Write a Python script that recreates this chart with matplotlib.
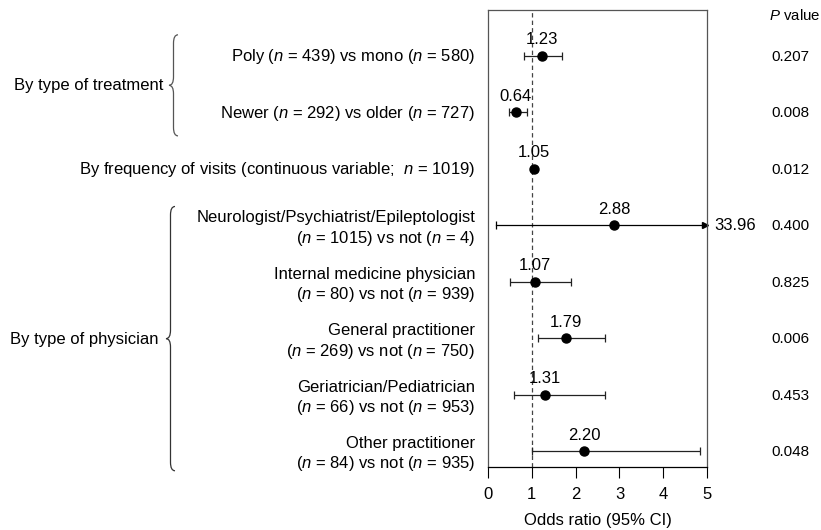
import matplotlib
matplotlib.use("Agg")
import matplotlib.pyplot as plt
from matplotlib.path import Path
from matplotlib.patches import PathPatch
from matplotlib.transforms import blended_transform_factory
import numpy as np

plt.rcParams['font.family'] = ['Liberation Sans', 'DejaVu Sans']
plt.rcParams['mathtext.fontset'] = 'custom'
plt.rcParams['mathtext.rm'] = 'Liberation Sans'
plt.rcParams['mathtext.it'] = 'Liberation Sans:italic'

# data
row_labels = [
    "Poly ($n$ = 439) vs mono ($n$ = 580)",
    "Newer ($n$ = 292) vs older ($n$ = 727)",
    "By frequency of visits (continuous variable;  $n$ = 1019)",
    "Neurologist/Psychiatrist/Epileptologist\n($n$ = 1015) vs not ($n$ = 4)",
    "Internal medicine physician\n($n$ = 80) vs not ($n$ = 939)",
    "General practitioner\n($n$ = 269) vs not ($n$ = 750)",
    "Geriatrician/Pediatrician\n($n$ = 66) vs not ($n$ = 953)",
    "Other practitioner\n($n$ = 84) vs not ($n$ = 935)",
]
odds = [1.23, 0.64, 1.05, 2.88, 1.07, 1.79, 1.31, 2.20]
ci_low = [0.83, 0.49, 1.02, 0.20, 0.50, 1.15, 0.61, 1.02]
ci_high = [1.69, 0.89, 1.09, 33.96, 1.90, 2.67, 2.67, 4.84]
p_values = ["0.207", "0.008", "0.012", "0.400", "0.825", "0.006", "0.453", "0.048"]
groups = ["By type of treatment", "By type of physician"]

W, H = 821, 530
fig = plt.figure(figsize=(W / 100, H / 100), dpi=100)
ax = fig.add_axes([487.7 / W, 1 - 466.7 / H, 219.6 / W, 456.7 / H])

y = np.arange(1, len(odds) + 1)
xmax = 5
fs = 12

ax.axvline(1, color='#444444', lw=0.9, ls=(0, (3.5, 2.5)), zorder=1)

for i in range(len(odds)):
    lo, hi = ci_low[i], ci_high[i]
    if hi > xmax:
        ax.plot([lo, xmax], [y[i], y[i]], color='black', lw=0.9, zorder=2, clip_on=False)
        ax.plot([lo], [y[i]], marker='|', ms=6, mew=0.9, color='black', clip_on=False)
        ax.plot([xmax - 0.05], [y[i]], marker='>', ms=4, color='black', clip_on=False)
        ax.text(xmax + 0.15, y[i], f"{hi:.2f}", ha='left', va='center', fontsize=fs)
    else:
        ax.errorbar(odds[i], y[i], xerr=[[odds[i] - lo], [hi - odds[i]]], fmt='none',
                    ecolor='#222222', elinewidth=0.9, capsize=3, capthick=0.9, zorder=2)
    ax.plot(odds[i], y[i], 'o', color='black', ms=6.5, zorder=3)
    ax.text(odds[i], y[i] - 0.28, f"{odds[i]:.2f}", ha='center', va='center', fontsize=fs)

ax.set_xlim(0, xmax)
ax.set_ylim(8.278, 0.191)
ax.set_yticks([])
ax.set_xticks(range(0, 6))
ax.tick_params(axis='x', direction='out', length=8, width=0.8, labelsize=fs, pad=6.5)
for s in ax.spines.values():
    s.set_color('#555555')
    s.set_linewidth(0.9)
ax.spines['bottom'].set_color('black')
ax.set_xlabel("Odds ratio (95% CI)", fontsize=fs, labelpad=8)

tr = blended_transform_factory(fig.transFigure, ax.transData)

# row labels
for i, lab in enumerate(row_labels):
    lines = lab.split("\n")
    if len(lines) == 1:
        ax.text(475 / W, y[i] + 0.02, lines[0], transform=tr, ha='right', va='center', fontsize=fs)
    else:
        ax.text(475 / W, y[i] - 0.13, lines[0], transform=tr, ha='right', va='center', fontsize=fs)
        ax.text(475 / W, y[i] + 0.23, lines[1], transform=tr, ha='right', va='center', fontsize=fs)

# p values
ax.text(769 / W, 0.28, "$P$ value", transform=tr, ha='left', va='center', fontsize=10.8)
for i, p in enumerate(p_values):
    ax.text(771 / W, y[i] + 0.02, p, transform=tr, ha='left', va='center', fontsize=11)


def brace(x, y0, y1, w, d, color):
    ym = (y0 + y1) / 2
    verts = [(x + w, y0), (x, y0), (x, y0 + d), (x, ym - d), (x, ym), (x - w, ym),
             (x, ym), (x, ym + d), (x, y1 - d), (x, y1), (x + w, y1)]
    codes = [Path.MOVETO, Path.CURVE3, Path.CURVE3, Path.LINETO, Path.CURVE3, Path.CURVE3,
             Path.CURVE3, Path.CURVE3, Path.LINETO, Path.CURVE3, Path.CURVE3]
    ax.add_patch(PathPatch(Path(verts, codes), fill=False, edgecolor=color, lw=0.9,
                           transform=tr, clip_on=False))


brace(173.5 / W, 0.63, 2.42, 4.5 / W, 0.15, '#555555')
ax.text(163 / W, 1.53, groups[0], transform=tr, ha='right', va='center', fontsize=fs)
brace(170.5 / W, 3.67, 8.35, 4.5 / W, 0.15, '#333333')
ax.text(158 / W, 6.03, groups[1], transform=tr, ha='right', va='center', fontsize=fs)

fig.savefig("out.png", dpi=100)
